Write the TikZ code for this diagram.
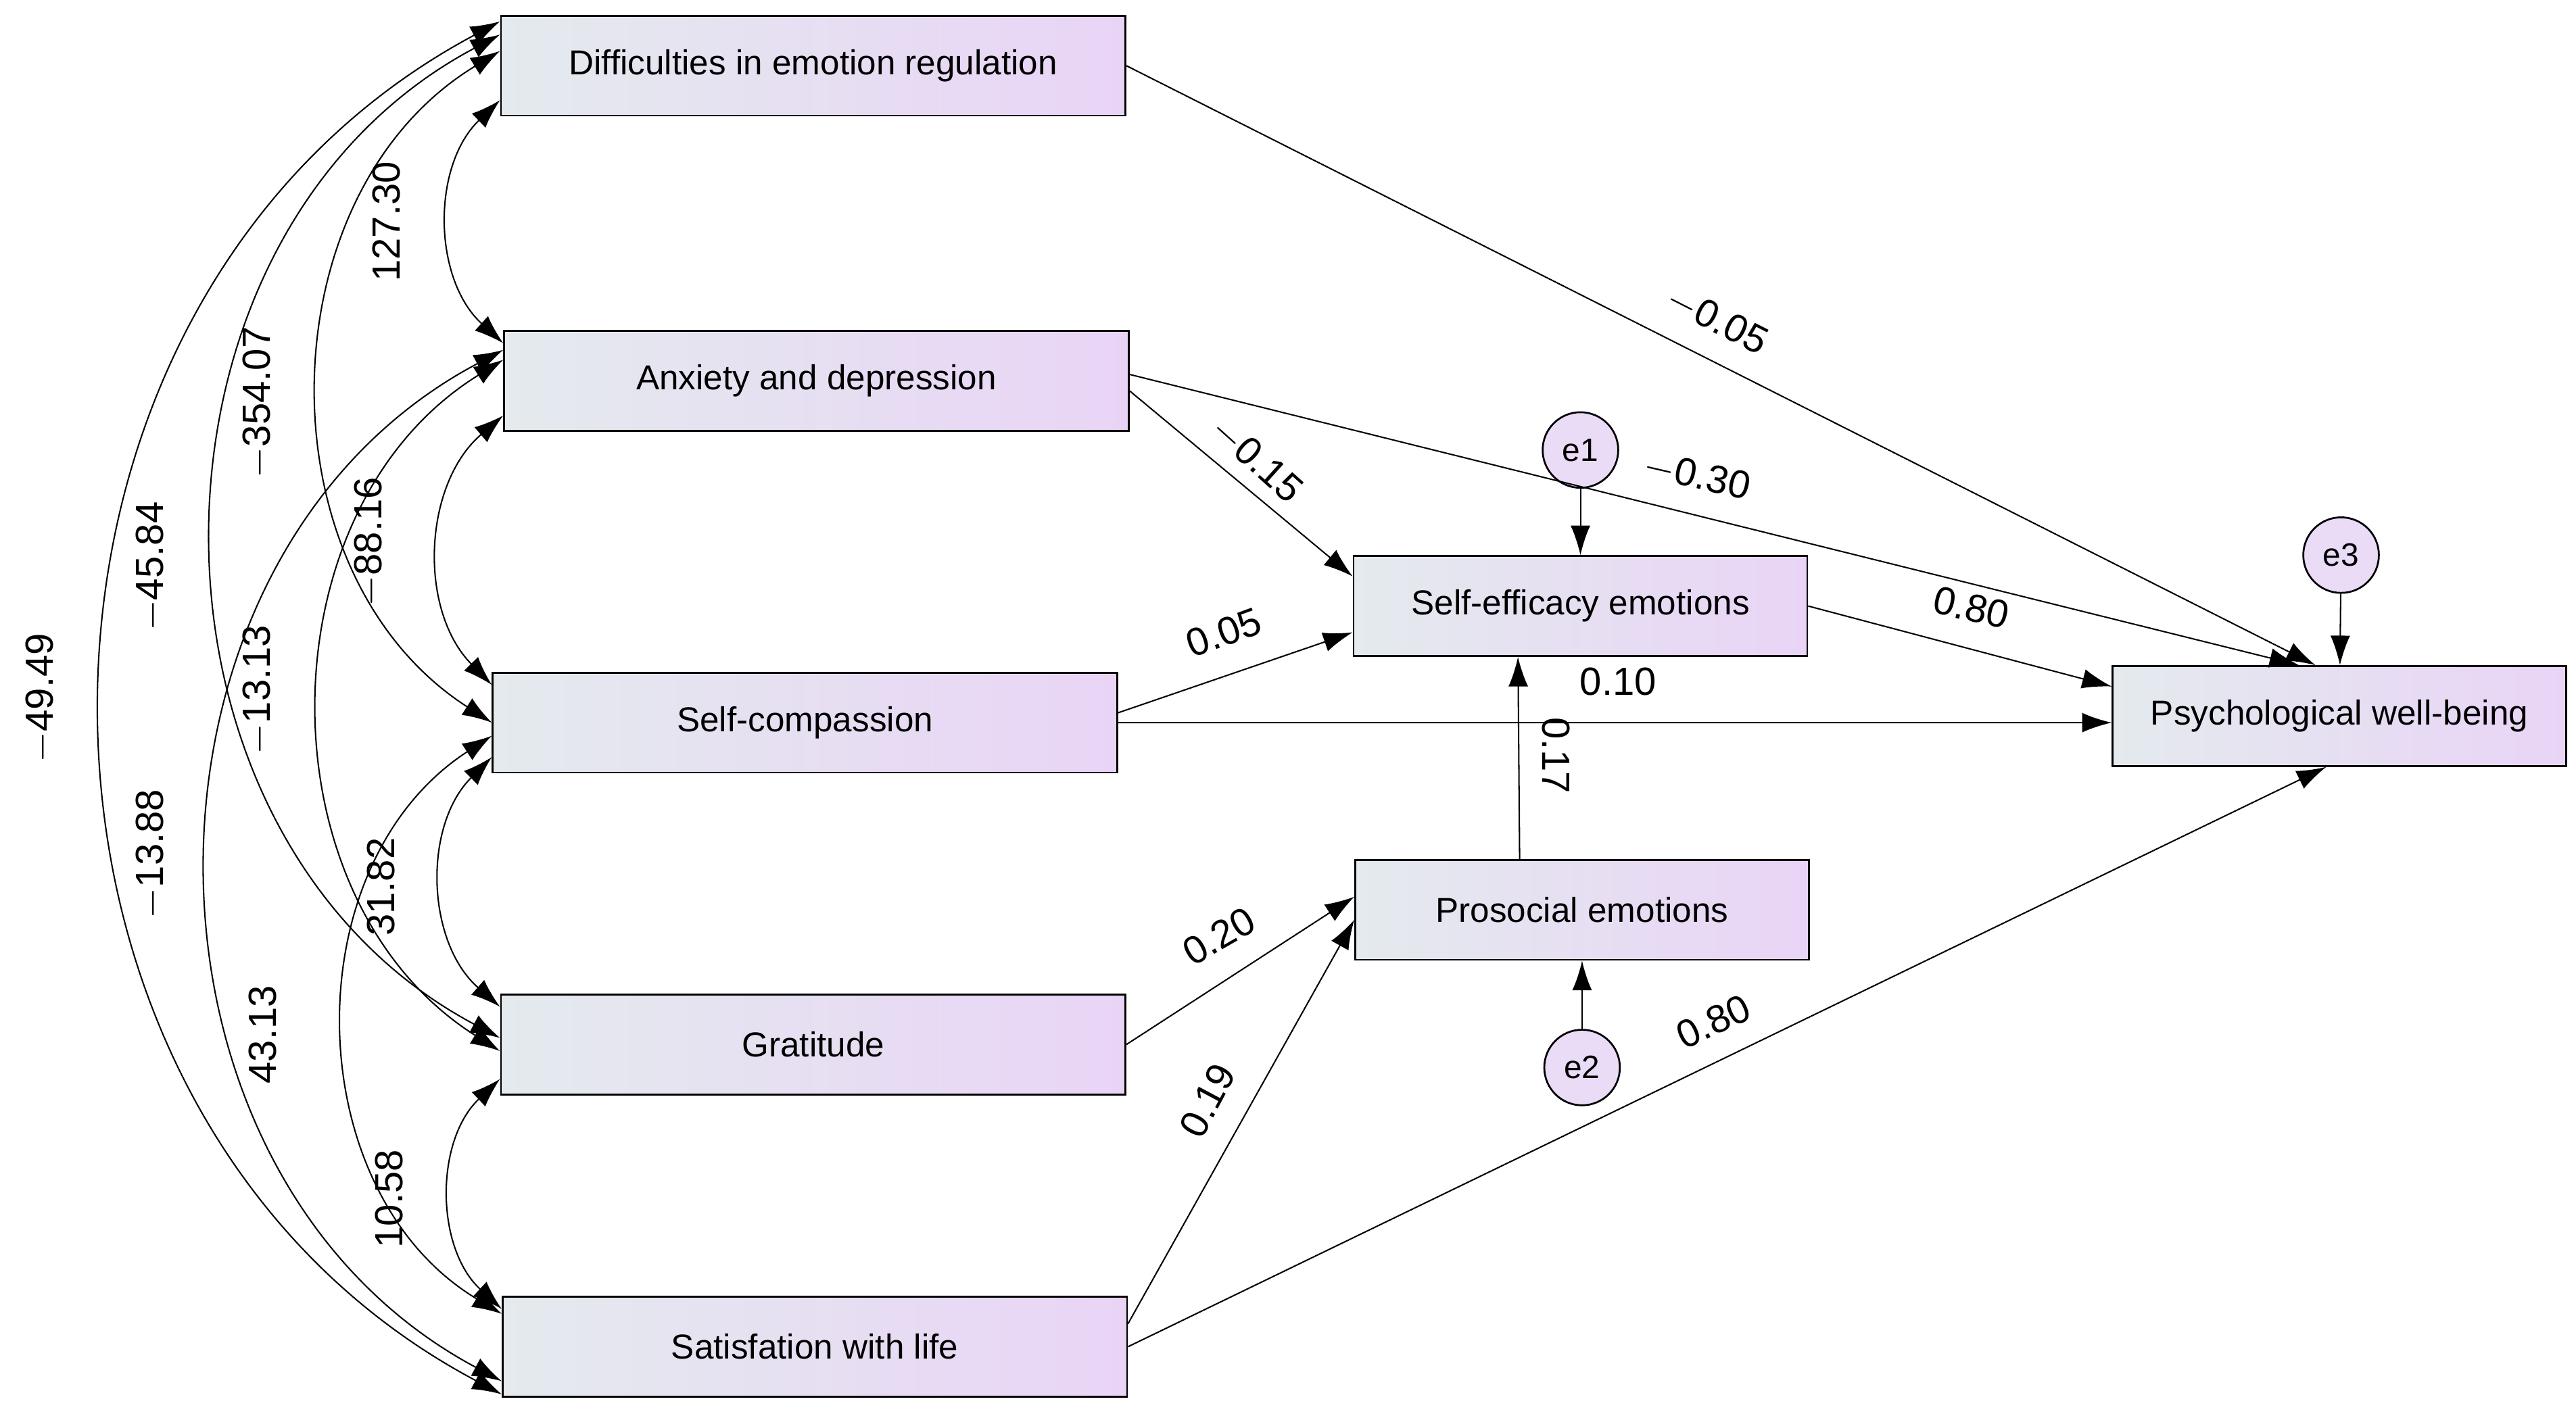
\documentclass[tikz,border=0pt]{standalone}
\usepackage{fontspec}
\setmainfont{Liberation Sans}
\usetikzlibrary{arrows.meta,positioning}
\definecolor{boxleft}{RGB}{228,234,238}
\definecolor{boxright}{RGB}{233,212,246}
\definecolor{errfill}{RGB}{234,220,246}
\tikzset{
  var/.style={draw,thick,left color=boxleft,right color=boxright,minimum width=9.5cm,minimum height=1.52cm,font=\fontsize{15}{17}\selectfont},
  med/.style={var,minimum width=6.9cm},
  err/.style={draw,thick,circle,fill=errfill,minimum size=1.15cm,inner sep=0pt,font=\fontsize{14}{16}\selectfont},
  path/.style={semithick,-{Latex[length=0.45cm,width=0.3cm]}},
  cov/.style={semithick,{Latex[length=0.45cm,width=0.3cm]}-{Latex[length=0.45cm,width=0.3cm]}},
  coef/.style={font=\fontsize{17}{19}\selectfont,inner sep=1pt}
}
\begin{document}
\begin{tikzpicture}[x=0.025cm,y=-0.025cm]
  \useasboundingbox (0,0) rectangle (1568,862);
  % observed variables
  \node[var] (der) at (495,40) {Difficulties in emotion regulation};
  \node[var] (anx) at (497,232) {Anxiety and depression};
  \node[var] (comp) at (490,440) {Self-compassion};
  \node[var] (grat) at (495,636) {Gratitude};
  \node[var] (swl) at (496,820) {Satisfation with life};
  \node[med] (eff) at (962,369) {Self-efficacy emotions};
  \node[med] (pro) at (963,554) {Prosocial emotions};
  \node[med] (pwb) at (1424,436) {Psychological well-being};
  % errors
  \node[err] (e1) at (962,274) {e1};
  \node[err] (e2) at (963,650) {e2};
  \node[err] (e3) at (1425,338) {e3};
  \draw[path] (e1) -- (eff);
  \draw[path] (e2) -- (pro);
  \draw[path] (e3) -- (pwb);

  % covariances
  \draw[cov] ([yshift=0.25cm]der.south west) to[bend right=47] ([yshift=-0.2cm]anx.north west);
  \draw[cov] ([yshift=0.25cm]anx.south west) to[bend right=47] ([yshift=-0.2cm]comp.north west);
  \draw[cov] ([yshift=0.25cm]comp.south west) to[bend right=47] ([yshift=-0.2cm]grat.north west);
  \draw[cov] ([yshift=0.25cm]grat.south west) to[bend right=47] ([yshift=-0.2cm]swl.north west);
  \draw[cov] ([yshift=-0.55cm]der.north west) to[bend right=58,looseness=1.05] (comp.west);
  \draw[cov] ([yshift=-0.45cm]anx.north west) to[bend right=58,looseness=1.05] ([yshift=-0.1cm]grat.west);
  \draw[cov] ([yshift=-0.2cm]comp.west) to[bend right=58,looseness=1.05] ([yshift=0.5cm]swl.west);
  \draw[cov] ([yshift=-0.3cm]der.north west) to[bend right=62,looseness=1.1] ([yshift=0.1cm]grat.west);
  \draw[cov] ([yshift=-0.3cm]anx.north west) to[bend right=62,looseness=1.1] ([yshift=0.25cm]swl.south west);
  \draw[cov] ([yshift=-0.1cm]der.north west) to[bend right=62,looseness=1.12] ([yshift=0.05cm]swl.south west);
  \node[coef,rotate=90] at (235,135) {127.30};
  \node[coef,rotate=90] at (225,330) {$-$88.16};
  \node[coef,rotate=90] at (232,540) {31.82};
  \node[coef,rotate=90] at (237,730) {10.58};
  \node[coef,rotate=90] at (157,245) {$-$354.07};
  \node[coef,rotate=90] at (157,420) {$-$13.13};
  \node[coef,rotate=90] at (160,630) {43.13};
  \node[coef,rotate=90] at (92,345) {$-$45.84};
  \node[coef,rotate=90] at (92,520) {$-$13.88};
  \node[coef,rotate=90] at (25,425) {$-$49.49};

  % regressions
  \draw[path] (der.east) -- ([xshift=3.1cm]pwb.north west);
  \draw[path] ([yshift=0.1cm]anx.east) -- ([xshift=2.85cm]pwb.north west);
  \draw[path] ([yshift=-0.15cm]anx.east) -- ([yshift=0.45cm]eff.west);
  \draw[path] ([yshift=0.15cm]comp.east) -- ([yshift=-0.4cm]eff.west);
  \draw[path] (comp.east) -- ([yshift=-0.1cm]pwb.west);
  \draw[path] (eff.east) -- ([yshift=0.45cm]pwb.west);
  \draw[path] ([xshift=-0.95cm]pro.north) -- ([xshift=-0.95cm]eff.south);
  \draw[path] (grat.east) -- ([yshift=0.2cm]pro.west);
  \draw[path] ([yshift=0.35cm]swl.east) -- ([yshift=-0.15cm]pro.west);
  \draw[path] (swl.east) -- ([xshift=-0.2cm]pwb.south);
  \node[coef,rotate=-27] at (1045,195) {$-$0.05};
  \node[coef,rotate=-13] at (1033,290) {$-$0.30};
  \node[coef,rotate=-42] at (765,280) {$-$0.15};
  \node[coef,rotate=20] at (745,385) {0.05};
  \node[coef] at (985,415) {0.10};
  \node[coef,rotate=-13] at (1200,370) {0.80};
  \node[coef,rotate=-90] at (947,460) {0.17};
  \node[coef,rotate=30] at (742,570) {0.20};
  \node[coef,rotate=62] at (735,670) {0.19};
  \node[coef,rotate=25] at (1043,622) {0.80};
\end{tikzpicture}
\end{document}
